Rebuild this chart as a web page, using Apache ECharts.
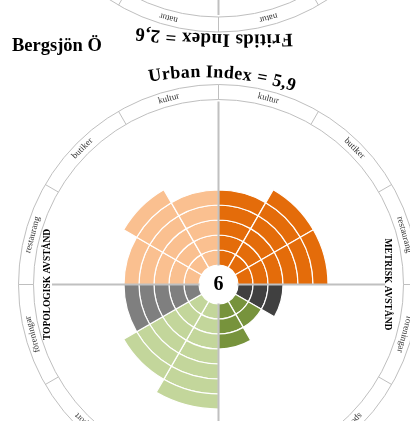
<!DOCTYPE html>
<html>
<head>
<meta charset="utf-8">
<script src="https://cdn.jsdelivr.net/npm/echarts@6/dist/echarts.min.js"></script>
<style>
  html, body { margin: 0; padding: 0; background: #ffffff; }
  #chart { width: 410px; height: 421px; }
</style>
</head>
<body>
<div id="chart"></div>
<script>
// ---- text ----
const pageTitle = 'Bergsjön Ö';
const urbanTitle = 'Urban Index = 5,9';
const fritidsTitle = 'Fritids Index = 2,6';
const centerLabel = '6';
const metricLabel = 'METRISK AVSTÅND';
const topoLabel = 'TOPOLOGISK AVSTÅND';

// ---- urban wheel: 12 sectors of 30°, clockwise from 12 o'clock ----
const urbanSectors = ['kultur', 'butiker', 'restaurang', 'föreningar', 'sport', '',
                      '', 'sport', 'föreningar', 'restaurang', 'butiker', 'kultur'];
const urbanValues  = [5, 6, 6, 3, 2, 3, 7, 6, 5, 5, 6, 5];
const sectorColors = ['#E46C0A', '#E46C0A', '#E46C0A', '#404040', '#77933C', '#77933C',
                      '#C3D69B', '#C3D69B', '#7F7F7F', '#FAC090', '#FAC090', '#FAC090'];

// ---- fritids wheel (above, turned half a circle): only its rim shows ----
const fritidsSectors = ['natur', '', '', '', '', '', '', '', '', '', '', 'natur'];

// ---- geometry ----
const C  = [218.5, 284.5];     // urban wheel centre
const CT = [218.5, -168];      // fritids wheel centre
const INNER = 19.5, UNIT = 15, RMAX = 11;
const RIM = [185, 200];
const GRID_GREY = '#BFBFBF';
const SERIF = '"Liberation Serif", "Times New Roman", serif';

const maxV = Math.max(...urbanValues);

// unit-ring segments, stacked
const barSeries = [];
for (let k = 0; k < maxV; k++) {
  barSeries.push({
    type: 'bar',
    coordinateSystem: 'polar',
    polarIndex: 0,
    stack: 'urban',
    barCategoryGap: '0%',
    silent: true,
    itemStyle: { borderColor: '#ffffff', borderWidth: 1.2 },
    data: urbanValues.map((v, i) => v > k ? { value: 1, itemStyle: { color: sectorColors[i] } } : '-')
  });
}

// text set along an arc, one glyph at a time
const measureCtx = document.createElement('canvas').getContext('2d');
function arcText(str, font, cx, cy, r, midDeg, color, spacing) {
  measureCtx.font = font;
  const chars = [...str];
  const widths = chars.map(ch => measureCtx.measureText(ch).width + spacing);
  const total = widths.reduce((a, b) => a + b, 0);
  const start = midDeg * Math.PI / 180 - total / (2 * r);
  let acc = 0;
  const out = [];
  chars.forEach((ch, k) => {
    const th = start + (acc + widths[k] / 2) / r;
    acc += widths[k];
    if (ch === ' ') return;
    out.push({
      type: 'text', z: 120,
      x: cx + r * Math.sin(th), y: cy - r * Math.cos(th),
      rotation: -th,
      style: { text: ch, font: font, fill: color, align: 'center', verticalAlign: 'middle' }
    });
  });
  return out;
}

// rim labels, tangential, tops facing outward
function rimLabels(names, cx, cy, offsetDeg) {
  const r = (RIM[0] + RIM[1]) / 2;
  return names.map((name, i) => {
    const th = (offsetDeg + (i + 0.5) * 30) * Math.PI / 180;
    return {
      type: 'text', z: 120,
      x: cx + r * Math.sin(th), y: cy - r * Math.cos(th),
      rotation: -th,
      style: { text: name, font: '9px ' + SERIF, fill: '#333333', align: 'center', verticalAlign: 'middle' }
    };
  }).filter(e => e.style.text);
}

const axisLineStyle = { stroke: '#C0C0C0', lineWidth: 2 };
const graphics = [
  // cross through the urban wheel
  { type: 'line', z: 110, shape: { x1: C[0], y1: C[1] - 183, x2: C[0], y2: C[1] + 200 }, style: axisLineStyle },
  { type: 'line', z: 110, shape: { x1: C[0] - 166.5, y1: C[1], x2: C[0] + 166.5, y2: C[1] }, style: axisLineStyle },
  // axis of the fritids wheel
  { type: 'line', z: 110, shape: { x1: CT[0], y1: CT[1] + 150, x2: CT[0], y2: CT[1] + 183 }, style: axisLineStyle },
  // hub
  { type: 'circle', z: 115, shape: { cx: C[0], cy: C[1], r: 19 }, style: { fill: '#ffffff' } },
  { type: 'text', z: 120, x: C[0], y: C[1], style: { text: centerLabel, font: 'bold 20px ' + SERIF, fill: '#000', align: 'center', verticalAlign: 'middle' } },
  // title
  { type: 'text', z: 120, x: 12, y: 46.5, style: { text: pageTitle, font: 'bold 18.5px ' + SERIF, fill: '#000', align: 'left', verticalAlign: 'middle' } },
  // side captions
  { type: 'text', z: 120, x: 387, y: C[1], rotation: -Math.PI / 2, style: { text: metricLabel, font: 'bold 9.5px ' + SERIF, fill: '#000', align: 'center', verticalAlign: 'middle' } },
  { type: 'text', z: 120, x: 48, y: C[1], rotation: Math.PI / 2, style: { text: topoLabel, font: 'bold 9.5px ' + SERIF, fill: '#000', align: 'center', verticalAlign: 'middle' } },
  // headings set on gentle arches
  ...arcText(urbanTitle, 'bold 18px ' + SERIF, 203, 382.5, 310, 3.6, '#000', 0.5),
  ...arcText(fritidsTitle, 'bold 19px ' + SERIF, 250, -960.5, 1000, 182.06, '#000', 0.4),
  ...rimLabels(urbanSectors, C[0], C[1], 0),
  ...rimLabels(fritidsSectors, CT[0], CT[1], 180)
];

const hidden = { axisLine: { show: false }, axisTick: { show: false }, axisLabel: { show: false } };
const rimRadius = { type: 'value', min: 0, max: 1, interval: 1, ...hidden, splitLine: { show: true, lineStyle: { color: GRID_GREY, width: 1 } } };
const rimAngle = { type: 'value', min: 0, max: 12, interval: 1, clockwise: true, ...hidden, splitLine: { show: true, lineStyle: { color: GRID_GREY, width: 1 } } };

const chart = echarts.init(document.getElementById('chart'), null, { renderer: 'canvas' });
chart.setOption({
  animation: false,
  backgroundColor: '#ffffff',
  polar: [
    { center: C, radius: [INNER, INNER + UNIT * RMAX] },
    { center: C, radius: RIM },
    { center: CT, radius: RIM }
  ],
  angleAxis: [
    { polarIndex: 0, type: 'category', data: urbanSectors, startAngle: 90, clockwise: true, boundaryGap: true, ...hidden, splitLine: { show: false } },
    { polarIndex: 1, startAngle: 90, ...rimAngle },
    { polarIndex: 2, startAngle: 270, ...rimAngle }
  ],
  radiusAxis: [
    { polarIndex: 0, type: 'value', min: 0, max: RMAX, ...hidden, splitLine: { show: false } },
    { polarIndex: 1, ...rimRadius },
    { polarIndex: 2, ...rimRadius }
  ],
  series: barSeries,
  graphic: { elements: graphics }
});
</script>
</body>
</html>
